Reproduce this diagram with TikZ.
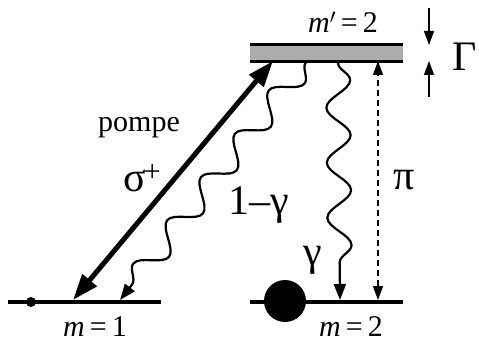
\documentclass[tikz,border=0pt]{standalone}
\usepackage{fontspec}
\setmainfont{Liberation Serif}
\usepackage{tikz}
\usetikzlibrary{arrows.meta,decorations.pathmorphing,positioning}
\definecolor{BarGray}{RGB}{172,172,172}

\tikzset{
  level/.style={line width=3.5pt},
  edge/.style={line width=2.6pt},
  pump/.style={line width=5pt,
    {Triangle[length=26pt,width=18pt]}-{Triangle[length=26pt,width=18pt]}},
  photon/.style={line width=2.2pt, decorate,
    decoration={snake, segment length=55pt, amplitude=12pt,
      pre length=2pt, post length=16pt},
    -{Triangle[length=16pt,width=12pt]}},
  pol/.style={line width=1.4pt, dash pattern=on 6pt off 4pt,
    {Triangle[length=14pt,width=10pt]}-{Triangle[length=14pt,width=10pt]}},
  width/.style={line width=1.4pt, -{Triangle[length=14pt,width=10pt]}},
  txt/.style={font=\fontsize{30}{34}\selectfont, inner sep=0pt},
  greek/.style={font=\fontsize{42}{46}\selectfont, inner sep=0pt}
}

\begin{document}
\begin{tikzpicture}[x=1pt,y=-1pt]
    \useasboundingbox (0,0) rectangle (479,350);

    % Ground levels
    \coordinate (g1w) at (8,302);
    \coordinate (g1e) at (161,302);
    \coordinate (g2w) at (250,302);
    \coordinate (g2e) at (403,302);
    \draw[level] (g1w) -- (g1e);
    \draw[level] (g2w) -- (g2e);

    % Excited level (width Gamma)
    \node[fill=BarGray, minimum width=153pt, minimum height=17pt,
      inner sep=0pt] (up) at (326.5,53) {};
    \draw[edge] (up.north west) -- (up.north east);
    \draw[edge] (up.south west) -- (up.south east);

    % Populations
    \fill (31,302) circle (5);
    \fill (285,301) circle (21);

    % Pump
    \coordinate (p1) at (73,300);
    \coordinate (p2) at (273,61);
    \draw[pump] (p1) -- (p2);

    % Spontaneous emission
    \coordinate (e1) at (307,61);
    \coordinate (f1) at (120,300);
    \coordinate (e2) at (338,61);
    \coordinate (f2) at (340,300);
    \draw[photon] (e1) -- (f1);
    \draw[photon] (e2) -- (f2);

    % pi transition
    \coordinate (q1) at (378,300);
    \coordinate (q2) at (378,61);
    \draw[pol] (q1) -- (q2);

    % Gamma markers
    \coordinate (w1) at (429,8);
    \coordinate (w2) at (429,45);
    \coordinate (w3) at (429,97);
    \coordinate (w4) at (429,61);
    \draw[width] (w1) -- (w2);
    \draw[width] (w3) -- (w4);

    % Labels
    \node[txt] (lup) at (343,22) {\textit{m}$'$\,=\,2};
    \node[txt] (lg1) at (95,327) {\textit{m}\,=\,1};
    \node[txt] (lg2) at (351,327) {\textit{m}\,=\,2};
    \node[txt] (lpo) at (139,128) {pompe};
    \node[greek] (lsig) at (142,178) {σ\kern-2pt\raisebox{0.25em}{\fontsize{30}{32}\selectfont +}};
    \node[greek] (lmg) at (259,205) {1–γ};
    \node[greek] (lga) at (313,260) {γ};
    \node[greek] (lpi) at (404,180) {π};
    \node[font=\fontsize{42}{46}\selectfont, inner sep=0pt] (lGa) at (465,57) {Γ};
  \end{tikzpicture}
\end{document}
